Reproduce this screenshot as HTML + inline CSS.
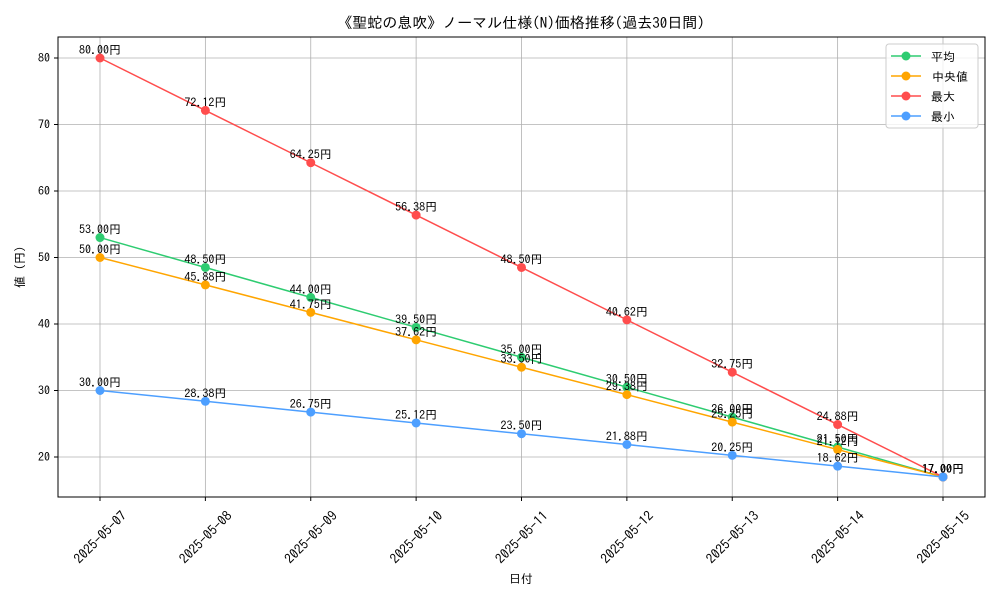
<!DOCTYPE html>
<html><head><meta charset="utf-8"><style>
body{margin:0;background:#fff;}
svg text{font-family:"IPAGothic","Liberation Sans","Noto Sans CJK JP",sans-serif;}
</style></head><body>
<svg id="chart" width="1000" height="600" viewBox="0 0 1000 600" xmlns="http://www.w3.org/2000/svg">
<rect width="1000" height="600" fill="#fff"/>
<text x="521" y="28" text-anchor="middle" font-size="15">《聖蛇の息吹》ノーマル仕様(N)価格推移(過去30日間)</text>
<g id="grid"></g>
<g id="axes"></g>
<g id="series"></g>
<rect x="58" y="37" width="927" height="460" fill="none" stroke="#000" stroke-width="1"/>
<text x="521" y="583" text-anchor="middle" font-size="12">日付</text>
<text transform="translate(24,267) rotate(-90)" text-anchor="middle" font-size="12">値 (円)</text>
<g id="legend"></g>
</svg>
<script>
const categories=["2025-05-07","2025-05-08","2025-05-09","2025-05-10","2025-05-11","2025-05-12","2025-05-13","2025-05-14","2025-05-15"];
const avgValues=[53,48.5,44,39.5,35,30.5,26,21.5,17];
const medianValues=[50,45.88,41.75,37.62,33.5,29.38,25.25,21.12,17];
const maxValues=[80,72.12,64.25,56.38,48.5,40.62,32.75,24.88,17];
const minValues=[30,28.38,26.75,25.12,23.5,21.88,20.25,18.62,17];
const yTicks=[20,30,40,50,60,70,80];
const seriesNames=["平均","中央値","最大","最小"];
const NS="http://www.w3.org/2000/svg";
function mk(t,a,p){const e=document.createElementNS(NS,t);for(const k in a)e.setAttribute(k,a[k]);p.appendChild(e);return e;}
const x=i=>100+i*(843/(categories.length-1));
const y=v=>457-(v-20)*(399/60);
const grid=document.getElementById('grid'),axes=document.getElementById('axes'),ser=document.getElementById('series'),leg=document.getElementById('legend');
yTicks.forEach(t=>{
 const l=mk('line',{x1:58,x2:985,y1:y(t),y2:y(t),stroke:'#b0b0b0','stroke-width':0.8},grid);
 
 mk('line',{x1:54,x2:58,y1:y(t),y2:y(t),stroke:'#000'},axes);
 const tx=mk('text',{x:50,y:y(t)+4,'text-anchor':'end','font-size':12},axes);tx.textContent=t;
 
});
categories.forEach((c,i)=>{
 const l=mk('line',{x1:x(i),x2:x(i),y1:37,y2:497,stroke:'#b0b0b0','stroke-width':0.8},grid);
 
 mk('line',{x1:x(i),x2:x(i),y1:497,y2:501,stroke:'#000'},axes);
 const tx=mk('text',{x:x(i),y:542,'text-anchor':'middle','font-size':13.5,transform:`rotate(-45 ${x(i)} 537)`},axes);tx.textContent=c;
 
});
const all=[[avgValues,'#2ecc71','avg'],[medianValues,'#ffa500','median'],[maxValues,'#ff4d4d','max'],[minValues,'#4d9fff','min']];
all.forEach(([vals,col,nm])=>{
 const g=mk('g',{},ser);
 const p=mk('polyline',{points:vals.map((v,i)=>x(i)+','+y(v)).join(' '),fill:'none',stroke:col,'stroke-width':1.5},g);
 
 vals.forEach((v,i)=>{
  const c=mk('circle',{cx:x(i),cy:y(v),r:4.5,fill:col},g);
  
  const t=mk('text',{x:x(i),y:y(v)-4,'text-anchor':'middle','font-size':12},g);t.textContent=v.toFixed(2)+'円';
  
 });
});
const lb=mk('rect',{x:886,y:44,width:92,height:84,rx:3,fill:'#fff','fill-opacity':0.8,stroke:'#ccc'},leg);

all.forEach(([v,col,nm],k)=>{
 const yy=56+k*20;
 const g=mk('g',{},leg);
 mk('line',{x1:891,x2:921,y1:yy,y2:yy,stroke:col,'stroke-width':1.5},g);
 mk('circle',{cx:906,cy:yy,r:4.5,fill:col},g);
 const t=mk('text',{x:931+(k==1?1:0),y:yy+5,'font-size':12},g);t.textContent=seriesNames[k];
});
</script>
</body></html>
